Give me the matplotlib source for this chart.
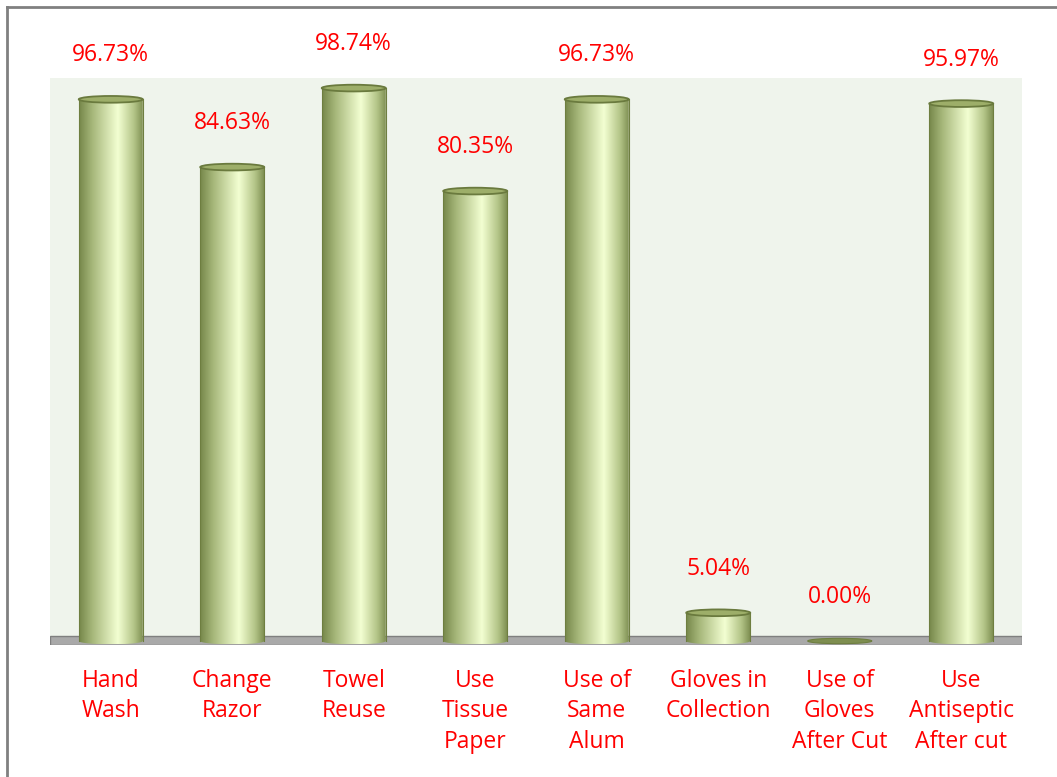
import numpy as np
import matplotlib
matplotlib.use("Agg")
import matplotlib.pyplot as plt
from matplotlib.colors import LinearSegmentedColormap
from matplotlib.patches import Ellipse, Rectangle, Polygon
from matplotlib.lines import Line2D

# data
categories = ["Hand\nWash", "Change\nRazor", "Towel\nReuse", "Use\nTissue\nPaper",
              "Use of\nSame\nAlum", "Gloves in\nCollection", "Use of\nGloves\nAfter Cut",
              "Use\nAntiseptic\nAfter cut"]
values = [96.73, 84.63, 98.74, 80.35, 96.73, 5.04, 0.00, 95.97]

plt.rcParams['font.family'] = ['Open Sans', 'DejaVu Sans']

fig = plt.figure(figsize=(10.57, 7.77), dpi=100)
ax = fig.add_axes([50 / 1057, 1 - 645 / 777, 972 / 1057, 567 / 777])
ax.set_facecolor("#EFF4EC")
for s in ax.spines.values():
    s.set_visible(False)
ax.set_yticks([])
ax.set_xticks(range(len(categories)))
ax.set_xticklabels(categories, color="red", fontsize=16.5, linespacing=1.38, va="top")
ax.tick_params(axis="x", length=0, pad=17)

# floor
ax.add_patch(Rectangle((-0.5, -0.714), 8, 1.6, facecolor="#A9A9A9",
                       edgecolor="#7F7F7F", lw=1, zorder=1))

cmap = LinearSegmentedColormap.from_list("cyl", [
    (0.0, "#76874A"), (0.2, "#A5B679"), (0.6, "#F3FFD2"),
    (0.85, "#B3C487"), (1.0, "#7A8A4D")])
grad = np.linspace(0, 1, 256).reshape(1, -1)

w = 0.527
eh = 1.2
for i, v in enumerate(values):
    x0, x1 = i - w / 2, i + w / 2
    if v > 0:
        t = np.linspace(0, np.pi, 60)
        bx = i - np.cos(t) * w / 2
        by = -np.sin(t) * eh / 2
        pts = np.column_stack([np.r_[bx, x1, x0], np.r_[by, v, v]])
        clip = Polygon(pts, closed=True, facecolor="none", edgecolor="none",
                       transform=ax.transData)
        ax.add_patch(clip)
        im = ax.imshow(grad, cmap=cmap, aspect="auto", extent=[x0, x1, -eh / 2, v],
                       zorder=2, interpolation="bilinear")
        im.set_clip_path(clip)
        ax.plot([x0, x0], [0, v], color="#6E7E40", lw=0.8, zorder=3)
        ax.plot([x1, x1], [0, v], color="#6E7E40", lw=0.8, zorder=3)
        ax.add_patch(Ellipse((i, v), w, eh, facecolor="#9DAE69",
                             edgecolor="#6A7A3E", lw=1.3, zorder=4))
    else:
        ax.add_patch(Ellipse((i, v), w, eh * 0.8, facecolor="#7E8E50",
                             edgecolor="#6E7E40", lw=0.8, zorder=4))
    ax.annotate(f"{v:.2f}%", (i, v), xytext=(0, 23), textcoords="offset points",
                ha="center", va="bottom", color="red", fontsize=16.5, zorder=5,
                annotation_clip=False)

ax.set_xlim(-0.5, 7.5)
ax.set_ylim(-0.714, 100.54)

# outer frame
fig.add_artist(Line2D([7 / 1057, 7 / 1057], [0, 1 - 7 / 777], color="#808080", lw=2))
fig.add_artist(Line2D([7 / 1057, 1], [1 - 7 / 777, 1 - 7 / 777], color="#808080", lw=2))

fig.savefig("out.png", dpi=100, facecolor="white")
